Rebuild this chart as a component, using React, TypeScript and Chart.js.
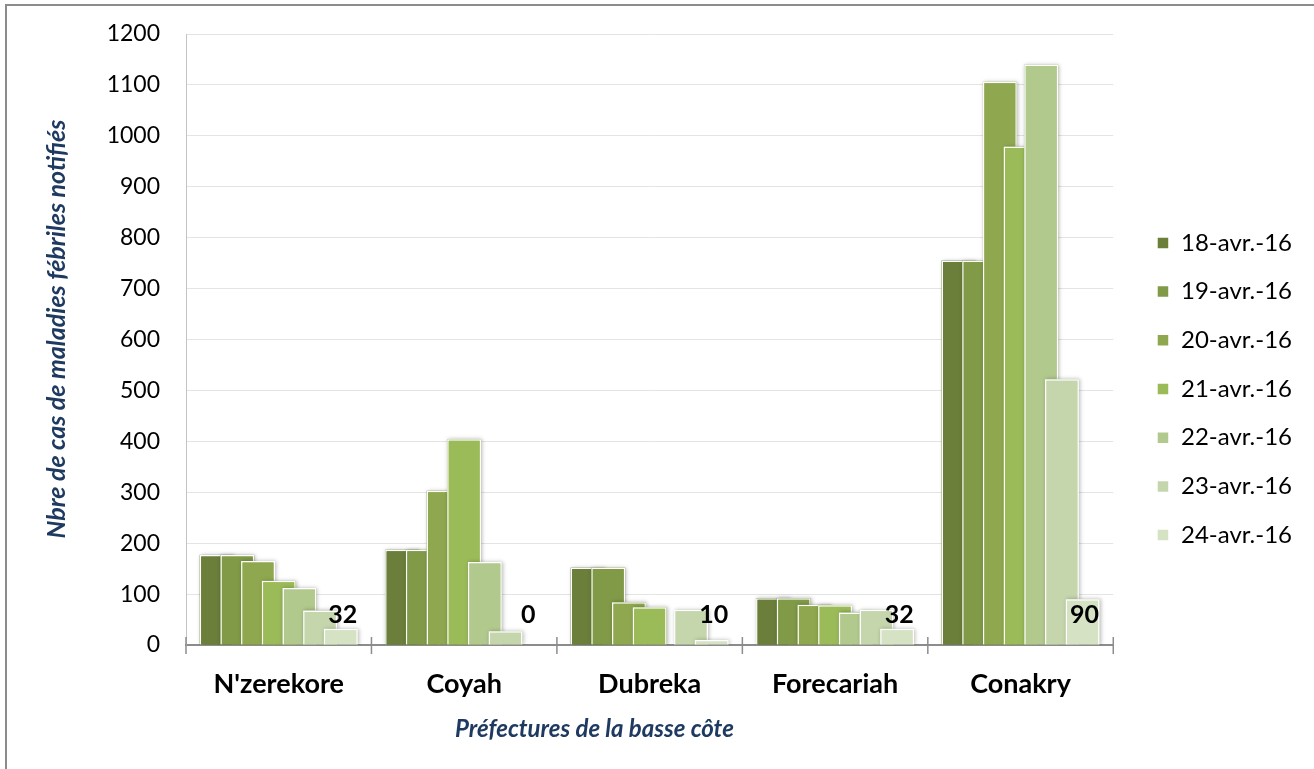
import React, { useEffect, useRef } from 'react';
import { Chart, registerables } from 'chart.js';

Chart.register(...registerables);

// ---------- data ----------
const categories = ["N'zerekore", 'Coyah', 'Dubreka', 'Forecariah', 'Conakry'];
const seriesLabels = ['18-avr.-16', '19-avr.-16', '20-avr.-16', '21-avr.-16', '22-avr.-16', '23-avr.-16', '24-avr.-16'];
const s18 = [177, 187, 152, 92, 755];
const s19 = [177, 187, 152, 92, 755];
const s20 = [165, 303, 84, 79, 1106];
const s21 = [126, 404, 74, 78, 979];
const s22 = [112, 163, 0, 64, 1140];
const s23 = [68, 27, 69, 69, 522];
const s24 = [32, 0, 10, 32, 90];
const seriesValues = [s18, s19, s20, s21, s22, s23, s24];
const seriesColors = ['#6b7f3b', '#809a48', '#8fa84f', '#9bbb59', '#b2c98d', '#c5d6ac', '#d6e2c4'];
const yMin = 0;
const yMax = 1200;
const yStep = 100;
const yTitle = 'Nbre de cas de maladies fébriles notifiés';
const xTitle = 'Préfectures de la basse côte';

const FONT = 'Lato';
const NAVY = '#1f3a60';

const forwardOrderPlugin = {
  id: 'forwardOrder',
  beforeDatasetsDraw(chart: any) {
    const metas = chart.getSortedVisibleDatasetMetas();
    const ctx = chart.ctx;
    const area = chart.chartArea;
    ctx.save();
    ctx.beginPath();
    ctx.rect(area.left + 1, area.top - 10, area.right - area.left, area.bottom - area.top + 10);
    ctx.clip();
    for (const meta of metas) {
      const color = seriesColors[meta.index];
      // soft shadow under each bar
      meta.data.forEach((el: any) => {
        const p = el.getProps(['x', 'y', 'base', 'width'], true);
        const h = Math.abs(p.base - p.y);
        if (h < 1) return;
        ctx.save();
        ctx.shadowColor = 'rgba(0,0,0,0.28)';
        ctx.shadowBlur = 4;
        ctx.shadowOffsetX = 1;
        ctx.shadowOffsetY = 0;
        ctx.fillStyle = color;
        ctx.fillRect(p.x - p.width / 2, Math.min(p.y, p.base), p.width, h);
        ctx.restore();
      });
      ctx.save();
      meta.controller.draw();
      ctx.restore();
    }
    ctx.restore();
    return false;
  },
};

const decorPlugin = {
  id: 'decor',
  afterDraw(chart: any) {
    const ctx = chart.ctx;
    const xs = chart.scales.x;
    const ys = chart.scales.y;
    const axisY = ys.getPixelForValue(0);
    const n = categories.length;
    // cross tick marks at category boundaries
    ctx.save();
    ctx.strokeStyle = '#8c8c8c';
    ctx.lineWidth = 1.5;
    for (let i = 0; i <= n; i++) {
      let x: number;
      if (i === 0) x = xs.left;
      else if (i === n) x = xs.right;
      else x = (xs.getPixelForValue(i - 1) + xs.getPixelForValue(i)) / 2;
      ctx.beginPath();
      ctx.moveTo(x, axisY - 8);
      ctx.lineTo(x, axisY + 9);
      ctx.stroke();
    }
    ctx.restore();

    // data labels for last series
    const lastIdx = seriesValues.length - 1;
    const meta = chart.getDatasetMeta(lastIdx);
    ctx.save();
    ctx.font = `bold 25px ${FONT}`;
    ctx.fillStyle = '#000';
    ctx.textAlign = 'center';
    ctx.textBaseline = 'middle';
    meta.data.forEach((el: any, i: number) => {
      ctx.fillText(String(seriesValues[lastIdx][i]), el.x + 2, axisY - 30);
    });
    ctx.restore();

    // x axis title
    ctx.save();
    ctx.font = `italic bold 24px ${FONT}`;
    ctx.fillStyle = NAVY;
    ctx.textAlign = 'center';
    ctx.textBaseline = 'middle';
    ctx.fillText(xTitle, xs.left + xs.width * 0.4405, 729);
    ctx.restore();

    // y axis title
    ctx.save();
    ctx.translate(57, ys.top + (ys.bottom - ys.top) * 0.483);
    ctx.rotate(-Math.PI / 2);
    ctx.font = `italic bold 25px ${FONT}`;
    ctx.fillStyle = NAVY;
    ctx.textAlign = 'center';
    ctx.textBaseline = 'middle';
    ctx.fillText(yTitle, 0, 0);
    ctx.restore();
  },
};

export default function App() {
  const canvasRef = useRef<HTMLCanvasElement | null>(null);

  useEffect(() => {
    const canvas = canvasRef.current;
    if (!canvas) return;
    const chart = new Chart(canvas, {
      type: 'bar',
      data: {
        labels: categories,
        datasets: seriesValues.map((vals, i) => ({
          label: seriesLabels[i],
          data: vals,
          backgroundColor: seriesColors[i],
          borderColor: '#ffffff',
          borderWidth: 1.5,
          categoryPercentage: 0.781,
          barPercentage: 1.64,
        })),
      },
      options: {
        animation: false,
        responsive: false,
        devicePixelRatio: 1,
        layout: { padding: { left: 0, top: 34, right: 12, bottom: 25 } },
        plugins: {
          tooltip: { enabled: false },
          legend: {
            position: 'right',
            align: 'center',
            labels: {
              boxWidth: 12,
              boxHeight: 12,
              padding: 24.7,
              color: '#000',
              font: { family: FONT, size: 24 },
            },
          },
        },
        scales: {
          x: {
            grid: { display: false },
            border: { display: true, color: '#8c8c8c', width: 2 },
            ticks: {
              color: '#000',
              padding: 15,
              font: { family: FONT, size: 27, weight: 'bold' },
            },
            afterFit: (s: any) => {
              s.height = 99;
            },
          },
          y: {
            min: yMin,
            max: yMax,
            ticks: {
              stepSize: yStep,
              color: '#000',
              padding: 26,
              font: { family: FONT, size: 23 },
              callback: (v: any) => String(v),
            },
            grid: { color: '#e4e4e4', lineWidth: 1, drawTicks: false },
            border: { display: true, color: '#c4c4c4', width: 1 },
            title: { display: false },
            afterFit: (s: any) => {
              s.width = 186;
              s.paddingTop = 0;
            },
          },
          spacer: {
            type: 'linear',
            position: 'right',
            display: true,
            grid: { display: false },
            ticks: { display: false },
            border: { display: false },
            afterFit: (s: any) => {
              s.width = 19;
              s.paddingTop = 0;
            },
          },
        },
      },
      plugins: [forwardOrderPlugin, decorPlugin],
    } as any);
    return () => chart.destroy();
  }, []);

  return (
    <div style={{ position: 'absolute', left: 0, top: 0, width: 1314, height: 769, overflow: 'hidden', background: '#fff' }}>
      <canvas ref={canvasRef} width={1314} height={769} style={{ position: 'absolute', left: 0, top: 0, width: 1314, height: 769 }} />
      <div
        style={{
          position: 'absolute',
          left: 5,
          top: 4,
          width: 1400,
          height: 900,
          borderLeft: '2px solid #8c8c8c',
          borderTop: '2px solid #8c8c8c',
          pointerEvents: 'none',
        }}
      />
    </div>
  );
}
